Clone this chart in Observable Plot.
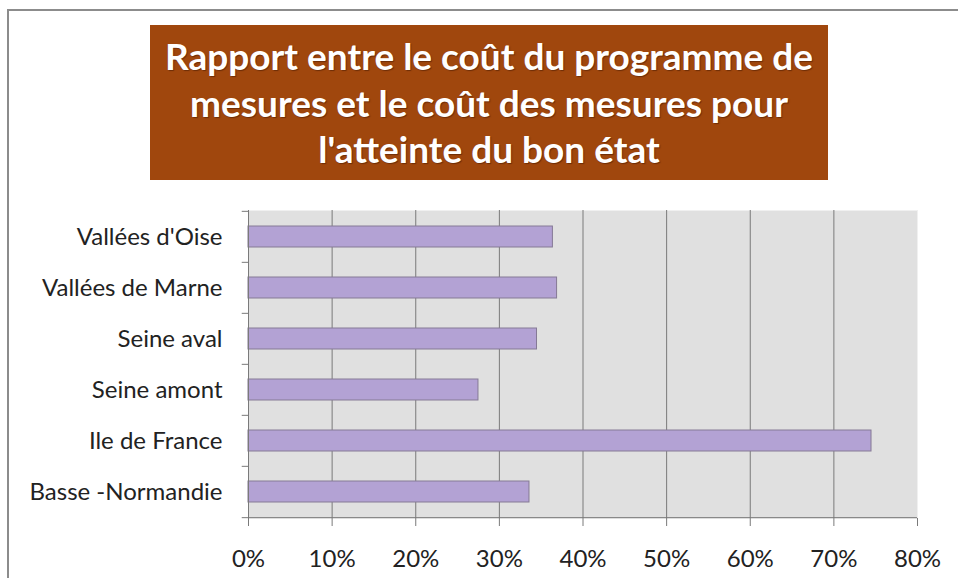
<!DOCTYPE html>
<html>
<head>
<meta charset="utf-8">
<script src="https://cdn.jsdelivr.net/npm/d3@7"></script>
<script src="https://cdn.jsdelivr.net/npm/@observablehq/plot@0.6"></script>
<style>
  html, body { margin: 0; padding: 0; background: #ffffff; }
  #wrap { position: relative; width: 958px; height: 578px; overflow: hidden; background: #fff; }
  #frame { position: absolute; left: 7px; top: 9px; right: -4px; bottom: -4px; border-left: 2px solid #8c8c8c; border-top: 2px solid #8c8c8c; }
  #title { position: absolute; left: 150px; top: 25px; width: 678px; height: 155px; background: #a0470d;
    color: #fff; font-family: Lato, "Open Sans", sans-serif; font-weight: bold; font-size: 37px; line-height: 46.5px;
    text-align: center; box-sizing: border-box; padding-top: 8px; white-space: nowrap;
    text-shadow: 1px 1px 1px rgba(60,20,0,0.5); }
  #chart { position: absolute; left: 0; top: 200px; }
</style>
</head>
<body>
<div id="wrap">
  <div id="frame"></div>
  <div id="title">Rapport entre le coût du programme de<br>mesures et le coût des mesures pour<br>l'atteinte du bon état</div>
  <div id="chart"></div>
</div>
<script>
const categories = ["Vallées d'Oise", "Vallées de Marne", "Seine aval", "Seine amont", "Ile de France", "Basse -Normandie"];
const values = [0.364, 0.369, 0.345, 0.275, 0.745, 0.336];
const xTicks = [0, 0.1, 0.2, 0.3, 0.4, 0.5, 0.6, 0.7, 0.8];
const gridTicks = [0.1, 0.2, 0.3, 0.4, 0.5, 0.6, 0.7];

const data = categories.map((c, i) => ({category: c, value: values[i]}));

const W = 958, H = 378, mT = 10, mB = 60, mL = 248, mR = 41;
const step = (H - mT - mB) / categories.length;
const font = "Lato, 'Open Sans', sans-serif";

const chart = Plot.plot({
  width: W,
  height: H,
  marginTop: mT,
  marginBottom: mB,
  marginLeft: mL,
  marginRight: mR,
  style: {fontFamily: font, fontSize: "24px", color: "#222", background: "transparent", overflow: "visible"},
  x: {domain: [0, 0.8], ticks: xTicks, tickFormat: d3.format(".0%"), label: null},
  y: {domain: categories, paddingInner: 0.59, paddingOuter: 0.295, label: null},
  marks: [
    Plot.frame({fill: "#e0e0e0", stroke: "#f0f0f0"}),
    Plot.ruleX(gridTicks, {stroke: "#7a7a7a", strokeWidth: 1}),
    Plot.barX(data, {x: "value", y: "category", fill: "#b3a2d4", stroke: "#857a95", strokeWidth: 1}),
    Plot.axisX({ticks: xTicks, tickFormat: d3.format(".0%"), tickSize: 8, tickPadding: 23, stroke: "#7a7a7a", fontSize: 24, fill: "#222", label: null}),
    Plot.axisY({tickSize: 0, tickPadding: 26, fontSize: 24, fill: "#222", label: null}),
    Plot.ruleY(categories, {y: d => d, dy: -step / 2, x1: -0.0075, x2: 0, stroke: "#7a7a7a", clip: false}),
    Plot.ruleY([categories[categories.length - 1]], {y: d => d, dy: step / 2, x1: -0.0075, x2: 0, stroke: "#7a7a7a", clip: false}),
    Plot.ruleX([0], {stroke: "#7a7a7a"}),
    Plot.ruleY([categories[categories.length - 1]], {y: d => d, dy: step / 2, x1: 0, x2: 0.8, stroke: "#7a7a7a"})
  ]
});
document.getElementById("chart").appendChild(chart);
</script>
</body>
</html>
